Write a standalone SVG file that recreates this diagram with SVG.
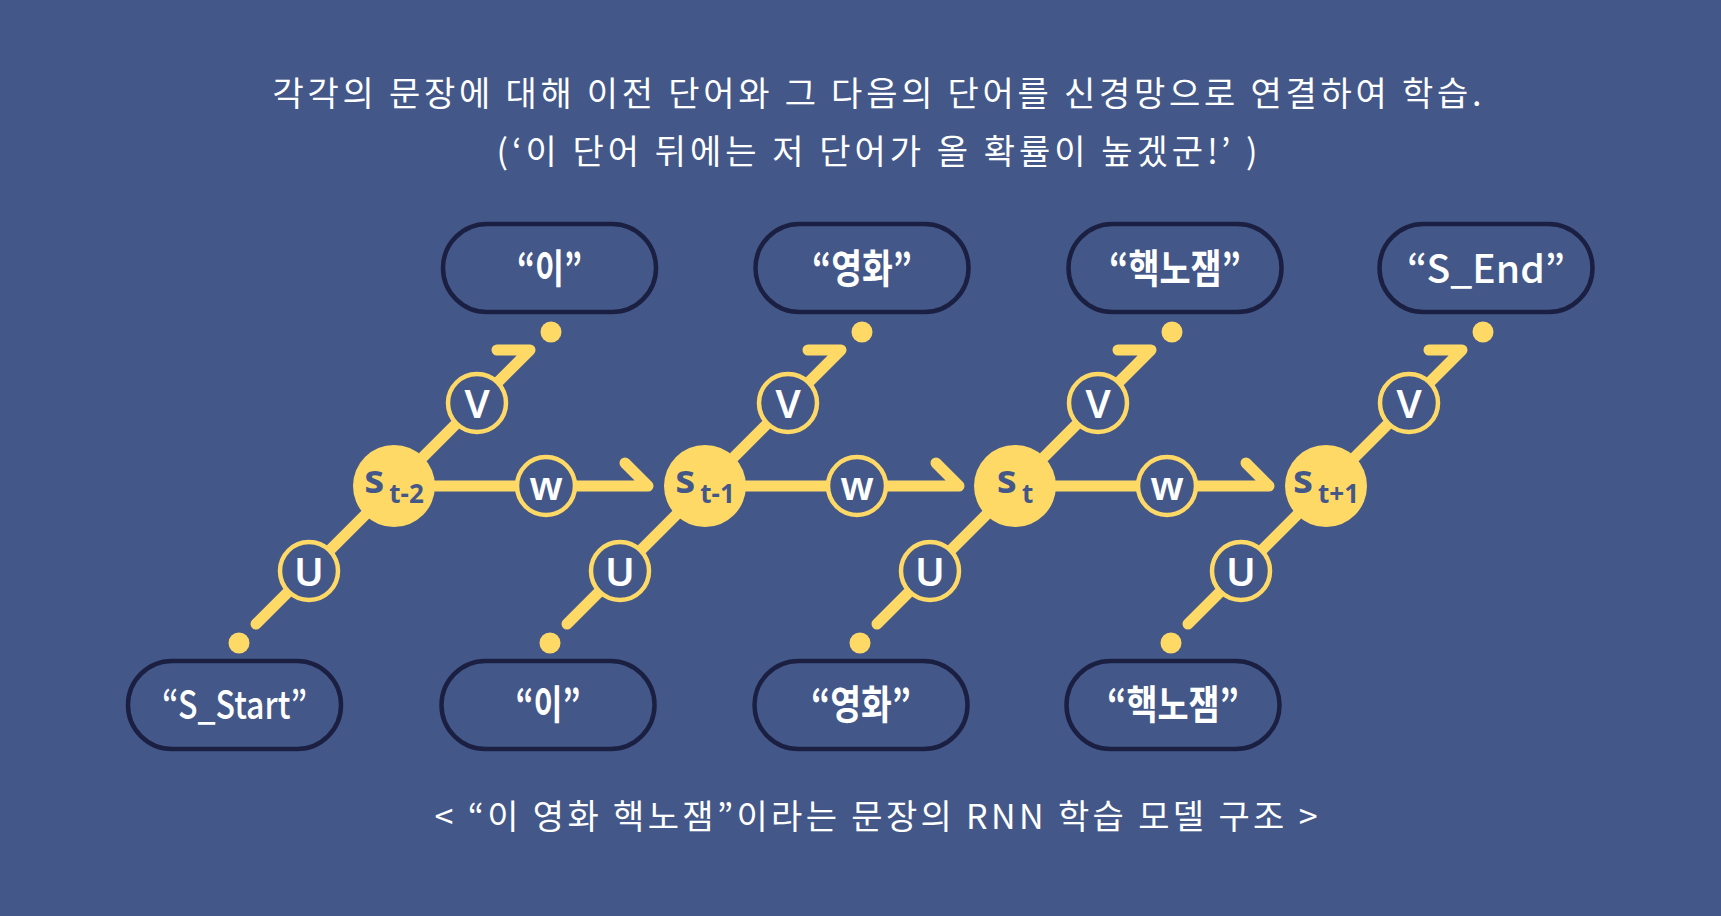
<svg xmlns="http://www.w3.org/2000/svg" width="1721" height="916" viewBox="0 0 1721 916">
<style>
.bg{fill:#435889}
.box{fill:#435889;stroke:#1b2043;stroke-width:4.5}
.lbl{fill:#fff;font-family:"Noto Sans CJK KR","Noto Sans",sans-serif;font-weight:700;font-size:40px;text-anchor:middle}
.lat{font-weight:500;font-size:39px}
.wire{fill:none;stroke:#FFD966;stroke-width:11;stroke-linecap:round;stroke-linejoin:round}
.dot{fill:#FFD966}
.op{fill:#435889;stroke:#FFD966;stroke-width:4.5}
.opt{fill:#fff;font-family:"Noto Sans",sans-serif;font-weight:600;font-size:40px;text-anchor:middle}
.sn{fill:#FFD966}
.st{fill:#435889;font-family:"Noto Sans",sans-serif;font-weight:700;text-anchor:middle}
.ttl{fill:#fff;font-family:"Noto Sans CJK KR",sans-serif;font-weight:400;font-size:34px;text-anchor:middle}
</style>
<rect class="bg" x="0" y="0" width="1721" height="916"/>

<text class="ttl" x="877" y="106" textLength="1209" lengthAdjust="spacing">각각의 문장에 대해 이전 단어와 그 다음의 단어를 신경망으로 연결하여 학습.</text>
<text class="ttl" x="877" y="164" textLength="761" lengthAdjust="spacing">(‘이 단어 뒤에는 저 단어가 올 확률이 높겠군!’ )</text>

<g id="connectors">
  <path class="wire" d="M256,624 L394,486"/>
  <path class="wire" d="M394,486 L530,350 L497,350"/>
  <path class="wire" d="M394,486 L648,486 L625,463"/>
  <path class="wire" d="M567,624 L705,486"/>
  <path class="wire" d="M705,486 L841,350 L808,350"/>
  <path class="wire" d="M705,486 L959,486 L936,463"/>
  <path class="wire" d="M877,624 L1015,486"/>
  <path class="wire" d="M1015,486 L1151,350 L1118,350"/>
  <path class="wire" d="M1015,486 L1269,486 L1246,463"/>
  <path class="wire" d="M1188,624 L1326,486"/>
  <path class="wire" d="M1326,486 L1462,350 L1429,350"/>
  <circle class="dot" cx="551" cy="332" r="10.5"/>
  <circle class="dot" cx="862" cy="332" r="10.5"/>
  <circle class="dot" cx="1172" cy="332" r="10.5"/>
  <circle class="dot" cx="1483" cy="332" r="10.5"/>
  <circle class="dot" cx="239" cy="643" r="10.5"/>
  <circle class="dot" cx="550" cy="643" r="10.5"/>
  <circle class="dot" cx="860" cy="643" r="10.5"/>
  <circle class="dot" cx="1171" cy="643" r="10.5"/>
  <g id="op-V">
    <circle class="op" cx="477" cy="403" r="29"/><text class="opt" x="477" y="418">V</text>
    <circle class="op" cx="788" cy="403" r="29"/><text class="opt" x="788" y="418">V</text>
    <circle class="op" cx="1098" cy="403" r="29"/><text class="opt" x="1098" y="418">V</text>
    <circle class="op" cx="1409" cy="403" r="29"/><text class="opt" x="1409" y="418">V</text>
  </g>
  <g id="op-U">
    <circle class="op" cx="309" cy="571" r="29"/><text class="opt" x="309" y="586">U</text>
    <circle class="op" cx="620" cy="571" r="29"/><text class="opt" x="620" y="586">U</text>
    <circle class="op" cx="930" cy="571" r="29"/><text class="opt" x="930" y="586">U</text>
    <circle class="op" cx="1241" cy="571" r="29"/><text class="opt" x="1241" y="586">U</text>
  </g>
  <g id="op-W">
    <circle class="op" cx="546" cy="486" r="29"/><text class="opt" x="546" y="500" font-size="44">w</text>
    <circle class="op" cx="857" cy="486" r="29"/><text class="opt" x="857" y="500" font-size="44">w</text>
    <circle class="op" cx="1167" cy="486" r="29"/><text class="opt" x="1167" y="500" font-size="44">w</text>
  </g>
</g>

<g id="s-t-2"><circle class="sn" cx="394" cy="486" r="41"/><text class="st" x="394" y="493"><tspan font-size="40">s</tspan><tspan font-size="26" dx="5" dy="10">t-2</tspan></text></g>
<g id="s-t-1"><circle class="sn" cx="705" cy="486" r="41"/><text class="st" x="705" y="493"><tspan font-size="40">s</tspan><tspan font-size="26" dx="5" dy="10">t-1</tspan></text></g>
<g id="s-t"><circle class="sn" cx="1015" cy="486" r="41"/><text class="st" x="1015" y="493"><tspan font-size="40">s</tspan><tspan font-size="26" dx="5" dy="10">t</tspan></text></g>
<g id="s-t+1"><circle class="sn" cx="1326" cy="486" r="41"/><text class="st" x="1326" y="493"><tspan font-size="40">s</tspan><tspan font-size="26" dx="5" dy="10">t+1</tspan></text></g>

<g id="out-1"><rect class="box" x="443" y="224" width="213" height="88" rx="44"/><text class="lbl" x="549.5" y="283" textLength="65" lengthAdjust="spacingAndGlyphs">“이”</text></g>
<g id="out-2"><rect class="box" x="755.5" y="224" width="213" height="88" rx="44"/><text class="lbl" x="862" y="283" textLength="100" lengthAdjust="spacingAndGlyphs">“영화”</text></g>
<g id="out-3"><rect class="box" x="1068.5" y="224" width="213" height="88" rx="44"/><text class="lbl" x="1175" y="283" textLength="132" lengthAdjust="spacingAndGlyphs">“핵노잼”</text></g>
<g id="out-4"><rect class="box" x="1379.5" y="224" width="213" height="88" rx="44"/><text class="lbl lat" x="1486" y="283" textLength="158" lengthAdjust="spacingAndGlyphs">“S_End”</text></g>

<g id="in-1"><rect class="box" x="128" y="661" width="213" height="88" rx="44"/><text class="lbl lat" x="234.5" y="719" textLength="145" lengthAdjust="spacingAndGlyphs">“S_Start”</text></g>
<g id="in-2"><rect class="box" x="441.5" y="661" width="213" height="88" rx="44"/><text class="lbl" x="548" y="719" textLength="65" lengthAdjust="spacingAndGlyphs">“이”</text></g>
<g id="in-3"><rect class="box" x="754.5" y="661" width="213" height="88" rx="44"/><text class="lbl" x="861" y="719" textLength="100" lengthAdjust="spacingAndGlyphs">“영화”</text></g>
<g id="in-4"><rect class="box" x="1066.5" y="661" width="213" height="88" rx="44"/><text class="lbl" x="1173" y="719" textLength="132" lengthAdjust="spacingAndGlyphs">“핵노잼”</text></g>

<text class="ttl" x="876" y="829" textLength="883" lengthAdjust="spacing">&lt; “이 영화 핵노잼”이라는 문장의 RNN 학습 모델 구조 &gt;</text>
</svg>
